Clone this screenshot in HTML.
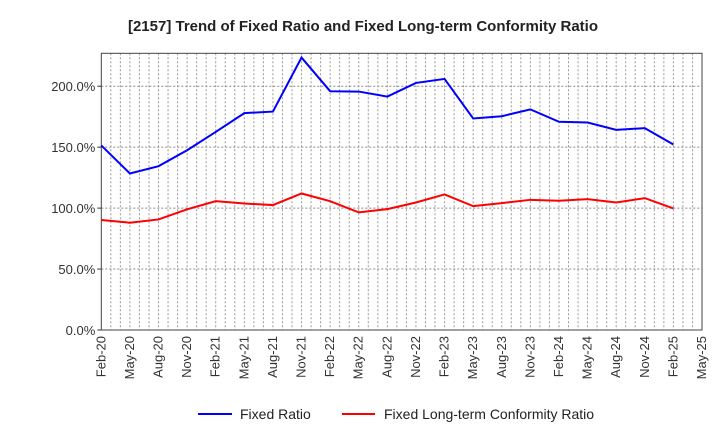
<!DOCTYPE html>
<html><head><meta charset="utf-8"><style>
body{margin:0;background:#fff;font-family:"Liberation Sans",Arial,sans-serif;}
</style></head><body>
<svg width="720" height="440" xmlns="http://www.w3.org/2000/svg" font-family="Liberation Sans, Arial, sans-serif">
<text x="363" y="31" text-anchor="middle" font-size="15" font-weight="bold" fill="#222">[2157]  Trend of Fixed Ratio and Fixed Long-term Conformity Ratio</text>
<g id="grid"></g>
<g id="axes"></g>
<g id="series"></g>
<g>
<line x1="198" y1="414" x2="232" y2="414" stroke="#0000ff" stroke-width="2"/>
<text x="240" y="419" font-size="14" fill="#222">Fixed Ratio</text>
<line x1="342" y1="414" x2="375" y2="414" stroke="#ff0000" stroke-width="2"/>
<text x="384" y="419" font-size="14" fill="#222">Fixed Long-term Conformity Ratio</text>
</g>
</svg>
<script>
const xLabels=["Feb-20","May-20","Aug-20","Nov-20","Feb-21","May-21","Aug-21","Nov-21","Feb-22","May-22","Aug-22","Nov-22","Feb-23","May-23","Aug-23","Nov-23","Feb-24","May-24","Aug-24","Nov-24","Feb-25","May-25"];
const yTicks=[0,50,100,150,200];
const fixedRatio=[151.4,128.4,134.4,147.5,162.5,177.9,179.2,223.5,195.9,195.6,191.5,202.7,206,173.5,175.4,181,170.8,170.2,164.2,165.6,152.2];
const conformity=[90.2,88,90.7,99,105.7,103.8,102.5,112,105.7,96.5,99.2,104.6,111.2,101.6,104.1,106.8,106,107.4,104.6,108.2,99.7];
const L=101.3,R=702,T=53.3,B=330,yMax=227;
const NS="http://www.w3.org/2000/svg";
const monthW=(R-L)/63;
function xq(i){return L+i*3*monthW;}
function y(v){return B-v/yMax*(B-T);}
function mk(tag,attrs,parent){const e=document.createElementNS(NS,tag);for(const k in attrs)e.setAttribute(k,attrs[k]);document.getElementById(parent).appendChild(e);return e;}
for(let m=1;m<63;m++){const x=L+m*monthW;
const g=mk('line',{x1:x,y1:T,x2:x,y2:B,stroke:'#999','stroke-width':1,'stroke-dasharray':'2,2'},'grid');

}
yTicks.forEach(v=>{if(v>0){const g=mk('line',{x1:L,y1:y(v),x2:R,y2:y(v),stroke:'#888','stroke-width':1,'stroke-dasharray':'2,2'},'grid');

}
const t=mk('text',{x:L-6,y:y(v)+5,'text-anchor':'end','font-size':13,fill:'#333'},'axes');t.textContent=v.toFixed(1)+'%';


const k=mk('line',{x1:L-4,y1:y(v),x2:L,y2:y(v),stroke:'#333'},'axes');

});
xLabels.forEach((s,i)=>{const x=xq(i);
const t=mk('text',{x:x+4,y:B+6,'text-anchor':'end','font-size':13,fill:'#333',transform:`rotate(-90 ${x+4} ${B+6})`},'axes');t.textContent=s;

});
const fr=mk('rect',{x:L,y:T,width:R-L,height:B-T,fill:'none',stroke:'#444','stroke-width':1},'axes');


function line(data,color,name){const p=mk('polyline',{points:data.map((v,i)=>xq(i)+','+y(v)).join(' '),fill:'none',stroke:color,'stroke-width':2},'series');

}
line(fixedRatio,'#0000ff','fixed-ratio-line');
line(conformity,'#ff0000','conformity-ratio-line');
</script>
</body></html>
